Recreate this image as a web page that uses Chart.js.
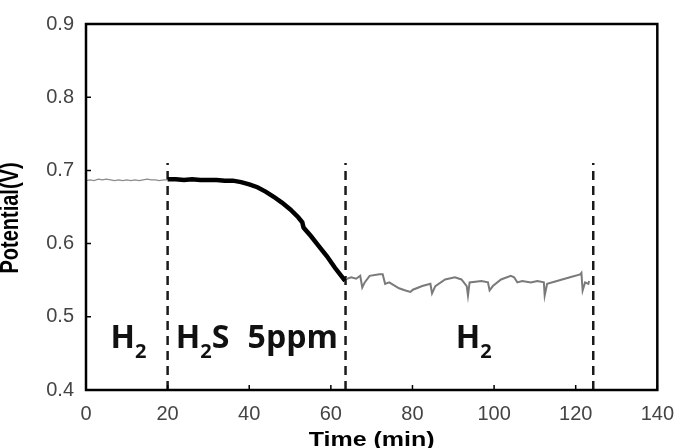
<!DOCTYPE html>
<html>
<head>
<meta charset="utf-8">
<script src="https://cdn.jsdelivr.net/npm/chart.js@4.4.1/dist/chart.umd.min.js"></script>
<style>
  html, body { margin: 0; padding: 0; background: #fff; }
  #wrap { width: 686px; height: 448px; }
</style>
</head>
<body>
<div id="wrap"><canvas id="chart" width="686" height="448"></canvas></div>
<script>
// time in min, potential in V

// first H2 period
const h2Time = [0, 1, 2, 3, 4, 5, 6, 7, 8, 9, 10, 11, 12, 13, 14, 15, 16, 17, 18, 19, 20];
const h2Pot = [0.686, 0.687, 0.686, 0.688, 0.687, 0.688, 0.687, 0.686, 0.687, 0.686, 0.687,
               0.686, 0.687, 0.686, 0.687, 0.688, 0.687, 0.687, 0.686, 0.687, 0.687];

// H2S 5ppm period
const h2sTime = [20, 22, 24, 26, 28, 30, 32, 34, 36, 38, 40, 42, 44, 46, 48, 50, 52, 53, 53.3, 53.6,
                 55, 57, 59, 61, 63.5];
const h2sPot = [0.688, 0.688, 0.687, 0.688, 0.687, 0.687, 0.687, 0.686, 0.686, 0.684, 0.681, 0.677,
                0.671, 0.664, 0.656, 0.647, 0.636, 0.629, 0.622, 0.620, 0.611, 0.597, 0.583, 0.567, 0.549];

// back to H2
const recTime = [63.4, 65.0, 66.2, 67.2, 67.7, 68.3, 69.5, 71.9, 72.7, 73.3, 74.3, 76.7, 78.3, 79.5,
                 80.1, 82.4, 84.4, 84.8, 85.6, 88.0, 90.4, 92.0, 93.3, 93.6, 94.0, 96.9, 98.5, 98.9,
                 99.7, 101.7, 104.1, 104.9, 105.7, 106.9, 109.0, 110.6, 112.2, 112.4, 113.0, 115.4,
                 118.6, 121.1, 121.4, 121.7, 122.3, 123.1, 123.3];
const recPot = [0.551, 0.554, 0.552, 0.556, 0.540, 0.547, 0.556, 0.558, 0.558, 0.545, 0.547, 0.539,
                0.536, 0.534, 0.537, 0.542, 0.545, 0.532, 0.542, 0.551, 0.554, 0.551, 0.542, 0.529,
                0.547, 0.549, 0.547, 0.536, 0.542, 0.551, 0.556, 0.554, 0.547, 0.549, 0.547, 0.549,
                0.547, 0.529, 0.545, 0.549, 0.554, 0.558, 0.560, 0.536, 0.547, 0.545, 0.549];

// gas switch markers
const switchTimes = [20, 63.6, 124.3];
const switchTop = 0.71;

// region labels (data units)
const regionLabels = [
  { main: 'H', sub: '2', rest: '', t: 6.0, v: 0.458 },
  { main: 'H', sub: '2', rest: 'S', t: 22.0, v: 0.458 },
  { main: '5ppm', sub: '', rest: '', t: 39.6, v: 0.458 },
  { main: 'H', sub: '2', rest: '', t: 90.6, v: 0.458 }
];

const xTitle = 'Time (min)';
const yTitle = 'Potential(V)';

const pts = (xs, ys) => xs.map((t, i) => ({ x: t, y: ys[i] }));

const datasets = [
  { data: pts(h2Time, h2Pot), borderColor: '#8c8c8c', borderWidth: 1.3 },
  { data: pts(h2sTime, h2sPot), borderColor: '#000', borderWidth: 4.5 },
  { data: pts(recTime, recPot), borderColor: '#7a7a7a', borderWidth: 2 }
];
switchTimes.forEach(t => {
  datasets.push({
    data: [{ x: t, y: 0.4 }, { x: t, y: switchTop }],
    borderColor: '#1a1a1a', borderWidth: 2.5, borderDash: [9, 6]
  });
});

const frame = {
  id: 'frame',
  afterDatasetsDraw(chart) {
    const { ctx, chartArea: a, scales: { x, y } } = chart;
    ctx.save();
    ctx.strokeStyle = '#000';
    ctx.lineWidth = 2.5;
    ctx.strokeRect(a.left, a.top, a.right - a.left, a.bottom - a.top);

    // inward ticks
    ctx.lineWidth = 1.5;
    ctx.beginPath();
    x.ticks.forEach(t => {
      const px = x.getPixelForValue(t.value);
      ctx.moveTo(px, a.bottom); ctx.lineTo(px, a.bottom - 5);
    });
    y.ticks.forEach(t => {
      const py = y.getPixelForValue(t.value);
      ctx.moveTo(a.left, py); ctx.lineTo(a.left + 5, py);
    });
    ctx.stroke();

    // region labels
    ctx.fillStyle = '#111';
    ctx.textBaseline = 'alphabetic';
    ctx.textAlign = 'left';
    regionLabels.forEach(l => {
      let px = x.getPixelForValue(l.t);
      const py = y.getPixelForValue(l.v);
      ctx.font = 'bold 32px "Open Sans", sans-serif';
      ctx.fillText(l.main, px, py);
      px += ctx.measureText(l.main).width;
      if (l.sub) {
        ctx.font = 'bold 20px "Open Sans", sans-serif';
        ctx.fillText(l.sub, px, py + 10);
        px += ctx.measureText(l.sub).width;
      }
      if (l.rest) {
        ctx.font = 'bold 32px "Open Sans", sans-serif';
        ctx.fillText(l.rest, px, py);
      }
    });

    // axis titles
    ctx.fillStyle = '#000';
    ctx.textAlign = 'center';
    ctx.font = 'bold 20px "Liberation Sans", Arial, sans-serif';
    ctx.save();
    ctx.translate((a.left + a.right) / 2, 446);
    ctx.scale(1.25, 1);
    ctx.fillText(xTitle, 0, 0);
    ctx.restore();

    ctx.save();
    ctx.translate(18, 218);
    ctx.rotate(-Math.PI / 2);
    ctx.scale(1, 1.3);
    ctx.fillText(yTitle, 0, 0);
    ctx.restore();

    ctx.restore();
  }
};

const tickFont = { family: '"Liberation Sans", Arial, sans-serif', size: 20 };

new Chart(document.getElementById('chart'), {
  type: 'line',
  data: { datasets },
  options: {
    responsive: false,
    animation: false,
    parsing: false,
    elements: { point: { radius: 0 }, line: { tension: 0 } },
    layout: { padding: { top: 10, right: 20, left: 0, bottom: 0 } },
    plugins: { legend: { display: false }, tooltip: { enabled: false } },
    scales: {
      x: {
        type: 'linear', min: 0, max: 140,
        ticks: { stepSize: 20, color: '#444', font: tickFont, padding: 12, maxRotation: 0 },
        grid: { drawOnChartArea: false, drawTicks: false, color: 'transparent' },
        border: { display: false },
        afterFit(s) { s.height = 58; }
      },
      y: {
        type: 'linear', min: 0.4, max: 0.9,
        ticks: { stepSize: 0.1, color: '#444', font: tickFont, padding: 12,
                 callback: v => v.toFixed(1) },
        grid: { drawOnChartArea: false, drawTicks: false, color: 'transparent' },
        border: { display: false },
        afterFit(s) { s.width = 86; }
      }
    }
  },
  plugins: [frame]
});
</script>
</body>
</html>
